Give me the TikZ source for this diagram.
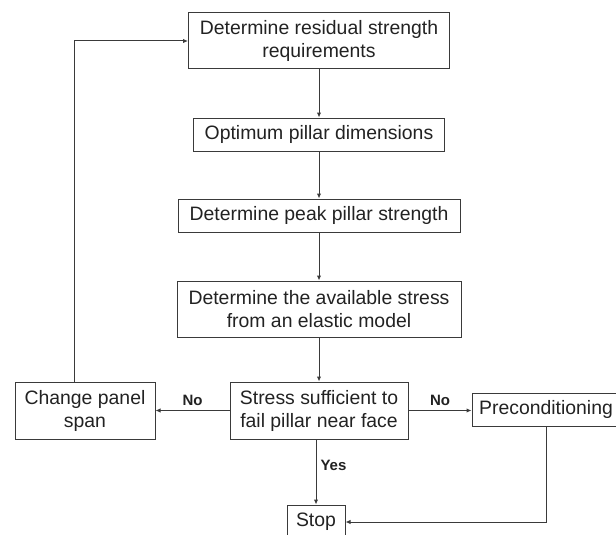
\documentclass[tikz,border=0pt]{standalone}
\usepackage{fontspec}
\setmainfont{Liberation Sans}
\usetikzlibrary{arrows.meta}
\definecolor{linec}{HTML}{3A3A3A}
\definecolor{textc}{HTML}{222222}
\begin{document}
\begin{tikzpicture}[x=1pt,y=-1pt,
  box/.style={draw=linec, line width=1pt, text=textc, align=center, inner sep=0pt,
    font=\fontsize{19.4}{23}\selectfont},
  conn/.style={draw=linec, line width=1pt, -{Latex[length=5pt,width=4.5pt]}},
  lbl/.style={text=textc, font=\fontsize{15}{18}\selectfont\bfseries, inner sep=0pt}]
\clip (0,0) rectangle (616,535);
\useasboundingbox (0,0) rectangle (616,535);
\node[box, minimum width=261pt, minimum height=56pt] (b1) at (319,41) {Determine residual strength\\requirements};
\node[box, minimum width=251pt, minimum height=33pt] (b2) at (319,134.5) {Optimum pillar dimensions};
\node[box, minimum width=282pt, minimum height=33pt] (b3) at (319,215.5) {Determine peak pillar strength};
\node[box, minimum width=284pt, minimum height=56pt] (b4) at (319,309) {Determine the available stress\\from an elastic model};
\node[box, minimum width=178pt, minimum height=57pt] (st) at (319,410.5) {Stress sufficient to\\fail pillar near face};
\node[box, minimum width=140pt, minimum height=57pt] (chg) at (85,410.5) {Change panel\\span};
\node[box, minimum width=148pt, minimum height=33pt] (pre) at (546,409.5) {Preconditioning};
\node[box, minimum width=58pt, minimum height=34pt] (stop) at (316,522) {Stop};
\coordinate (lp) at (74,382);
\draw[conn] (b1) -- (b2);
\draw[conn] (b2) -- (b3);
\draw[conn] (b3) -- (b4);
\draw[conn] (b4) -- (st);
\draw[conn] (st.west) -- node[lbl, above=4pt] {No} (chg.east);
\draw[conn] (st.east) -- node[lbl, above=4pt] {No} (st.east -| pre.west);
\draw[conn] (st.south -| stop.north) -- node[lbl, right=4pt, pos=0.4] {Yes} (stop.north);
\draw[conn] (pre.south) |- (stop.east);
\draw[conn] (lp) |- (b1.west);
\end{tikzpicture}
\end{document}
